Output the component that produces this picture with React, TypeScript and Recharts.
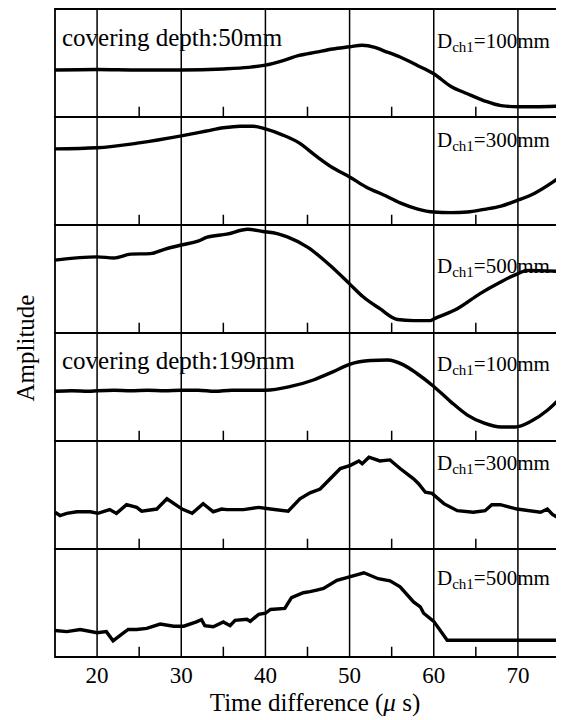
import React from 'react';
import { LineChart, Line, XAxis, YAxis, ReferenceLine, ReferenceArea } from 'recharts';

// time axis (µs)
const majorTimes = [20, 30, 40, 50, 60, 70];
const minorTimes = [25, 35, 45, 55, 65];

// covering depth 50mm
const d50ch100Time = [15, 20, 25, 30, 35, 38, 40, 42, 44, 46, 48, 50, 51.5, 53, 54, 56, 58, 60, 62, 64, 66, 68, 70, 72, 75];
const d50ch100Amp = [-0.13, -0.12, -0.13, -0.13, -0.11, -0.08, -0.04, 0.04, 0.14, 0.2, 0.26, 0.3, 0.33, 0.29, 0.23, 0.11, -0.04, -0.2, -0.43, -0.57, -0.7, -0.79, -0.81, -0.81, -0.8];

const d50ch300Time = [15, 20, 25, 30, 33, 35, 37, 38.5, 40, 42, 44, 46, 48, 50, 52, 54, 56, 58, 60, 62, 64, 66, 68, 70, 72, 74, 75];
const d50ch300Amp = [0.41, 0.43, 0.52, 0.65, 0.74, 0.8, 0.83, 0.83, 0.78, 0.67, 0.52, 0.28, 0.06, -0.11, -0.3, -0.44, -0.59, -0.7, -0.76, -0.77, -0.76, -0.71, -0.65, -0.54, -0.41, -0.22, -0.11];

const d50ch500Time = [15, 20, 22, 24, 26.3, 28, 30, 32, 33, 35.4, 37.9, 39.7, 41.4, 42.6, 45, 47.7, 50, 51.6, 53.6, 55.7, 57.6, 59.6, 60, 62.8, 65.5, 67.9, 70, 71.1, 75];
const d50ch500Amp = [0.35, 0.41, 0.39, 0.46, 0.47, 0.55, 0.63, 0.7, 0.77, 0.83, 0.92, 0.88, 0.84, 0.78, 0.59, 0.25, -0.09, -0.33, -0.55, -0.75, -0.77, -0.77, -0.74, -0.55, -0.27, -0.06, 0.1, 0.16, 0.14];

// covering depth 199mm
const d199ch100Time = [15, 17, 19, 20, 22, 24, 26, 28, 30, 32, 34, 36, 38, 40, 43, 45.7, 48, 50, 52.5, 54.5, 56.4, 58, 60, 62, 64, 66, 68, 69.7, 71.5, 73.5, 75];
const d199ch100Amp = [-0.08, -0.07, -0.08, -0.07, -0.06, -0.07, -0.06, -0.07, -0.06, -0.06, -0.08, -0.06, -0.06, -0.06, 0.01, 0.13, 0.28, 0.42, 0.49, 0.5, 0.41, 0.25, 0.01, -0.27, -0.52, -0.67, -0.74, -0.74, -0.64, -0.43, -0.21];

const d199ch300Time = [15, 15.6, 16.4, 17.6, 19.2, 20.1, 21.5, 22.3, 23.5, 24.7, 25.3, 27.1, 28.3, 30.1, 31.3, 32.6, 33.8, 34.8, 35.4, 37.4, 39.2, 40.6, 42.7, 44.1, 45.3, 46.5, 47.7, 48.9, 50.1, 51.1, 51.5, 52.3, 53.6, 54.8, 56, 57.6, 58.2, 59, 59.8, 61.2, 62.8, 64.7, 66.1, 66.9, 67.9, 69.9, 72.7, 73.5, 74.1, 75];
const d199ch300Amp = [-0.32, -0.38, -0.34, -0.31, -0.31, -0.34, -0.27, -0.34, -0.18, -0.23, -0.3, -0.26, -0.07, -0.26, -0.34, -0.16, -0.31, -0.26, -0.27, -0.27, -0.23, -0.26, -0.3, -0.07, 0.04, 0.11, 0.3, 0.49, 0.55, 0.63, 0.58, 0.7, 0.63, 0.65, 0.49, 0.3, 0.21, 0.05, 0.03, -0.16, -0.29, -0.32, -0.29, -0.18, -0.18, -0.26, -0.32, -0.26, -0.36, -0.44];

const d199ch500Time = [15, 16.4, 18, 20, 21.1, 21.9, 22.9, 23.7, 24.7, 25.9, 27.5, 29.1, 30.3, 31.8, 32.4, 32.8, 33.8, 35, 35.8, 36.4, 37.8, 38.2, 39.2, 40, 40.6, 42.3, 43.1, 44.5, 45.3, 46.1, 46.9, 48.5, 50.1, 51.7, 53.4, 54.8, 56, 57.6, 58.4, 58.8, 60, 61.6, 75];
const d199ch500Amp = [-0.51, -0.53, -0.49, -0.55, -0.53, -0.7, -0.58, -0.49, -0.49, -0.47, -0.39, -0.43, -0.43, -0.35, -0.31, -0.42, -0.44, -0.35, -0.42, -0.32, -0.3, -0.34, -0.21, -0.19, -0.12, -0.1, 0.1, 0.19, 0.21, 0.24, 0.27, 0.42, 0.49, 0.56, 0.45, 0.41, 0.3, 0.02, -0.07, -0.19, -0.34, -0.69, -0.69];

const channelLabels = ['100mm', '300mm', '500mm', '100mm', '300mm', '500mm'];
const depthLabels = ['covering depth:50mm', 'covering depth:199mm'];

const SERIF = '"Liberation Serif", "Times New Roman", serif';
const PANEL_H = 108;
const AXIS_H = 50;
const panelTops = [9, 117, 225, 333, 441, 549];
const labelBaselines = [48, 147, 273, 371, 470, 585];

// minor ticks stand on the panel floor (amplitude -1) and rise TICK_LEN units
const TICK_LEN = 0.19;

interface PanelProps {
  time: number[];
  amp: number[];
  top: number;
  curve: 'monotone' | 'linear';
  showAxis?: boolean;
}

function Panel({ time, amp, top, curve, showAxis = false }: PanelProps) {
  const data = time.map((t, i) => ({ t, amp: amp[i] }));
  const height = PANEL_H + 4 + (showAxis ? AXIS_H - 2 : 0);
  return (
    <div style={{ position: 'absolute', left: 48, top: top - 2 }}>
      <LineChart width={516} height={height} data={data} margin={{ top: 2, right: 4, bottom: showAxis ? 0 : 2, left: 7 }}>
        <XAxis
          dataKey="t"
          type="number"
          domain={[15, 75]}
          ticks={majorTimes}
          hide={!showAxis}
          height={AXIS_H}
          axisLine={false}
          tickLine={false}
          tickSize={0}
          tickMargin={10}
          tick={{ fontSize: 23, fill: '#000', fontFamily: SERIF }}
        />
        <YAxis hide domain={[-1, 1]} />
        {majorTimes.map((x) => (
          <ReferenceLine key={x} x={x} stroke="#000" strokeWidth={1.5} />
        ))}
        {minorTimes.map((x) => (
          <ReferenceLine key={'m' + x} segment={[{ x, y: -1 }, { x, y: -1 + TICK_LEN }]} stroke="#000" strokeWidth={1.5} />
        ))}
        <ReferenceArea x1={15} x2={75} y1={-1} y2={1} fill="none" fillOpacity={0} stroke="#000" strokeWidth={1.8} />
        <Line dataKey="amp" type={curve} stroke="#000" strokeWidth={3.4} dot={false} isAnimationActive={false} />
      </LineChart>
    </div>
  );
}

export default function App() {
  return (
    <div style={{ position: 'relative', width: 564, height: 720, margin: '-8px 0 0 -8px', background: '#fff' }}>
      <Panel time={d50ch100Time} amp={d50ch100Amp} top={panelTops[0]} curve="monotone" />
      <Panel time={d50ch300Time} amp={d50ch300Amp} top={panelTops[1]} curve="monotone" />
      <Panel time={d50ch500Time} amp={d50ch500Amp} top={panelTops[2]} curve="monotone" />
      <Panel time={d199ch100Time} amp={d199ch100Amp} top={panelTops[3]} curve="monotone" />
      <Panel time={d199ch300Time} amp={d199ch300Amp} top={panelTops[4]} curve="linear" />
      <Panel time={d199ch500Time} amp={d199ch500Amp} top={panelTops[5]} curve="linear" showAxis />

      {/* panel captions and axis titles */}
      <svg width={564} height={720} style={{ position: 'absolute', left: 0, top: 0, pointerEvents: 'none' }} fontFamily={SERIF} fill="#000">
        <text x={62} y={46} fontSize={25}>{depthLabels[0]}</text>
        <text x={62} y={369} fontSize={25}>{depthLabels[1]}</text>
        {channelLabels.map((lab, i) => (
          <text key={i} x={437} y={labelBaselines[i]} fontSize={21}>
            D
            <tspan fontSize={15} dy={4}>ch1</tspan>
            <tspan dy={-4}>={lab}</tspan>
          </text>
        ))}
        <text transform="translate(34,348) rotate(-90)" textAnchor="middle" fontSize={25}>Amplitude</text>
        <text x={315} y={711} textAnchor="middle" fontSize={25}>
          Time difference (<tspan fontStyle="italic">μ</tspan> s)
        </text>
      </svg>
    </div>
  );
}
